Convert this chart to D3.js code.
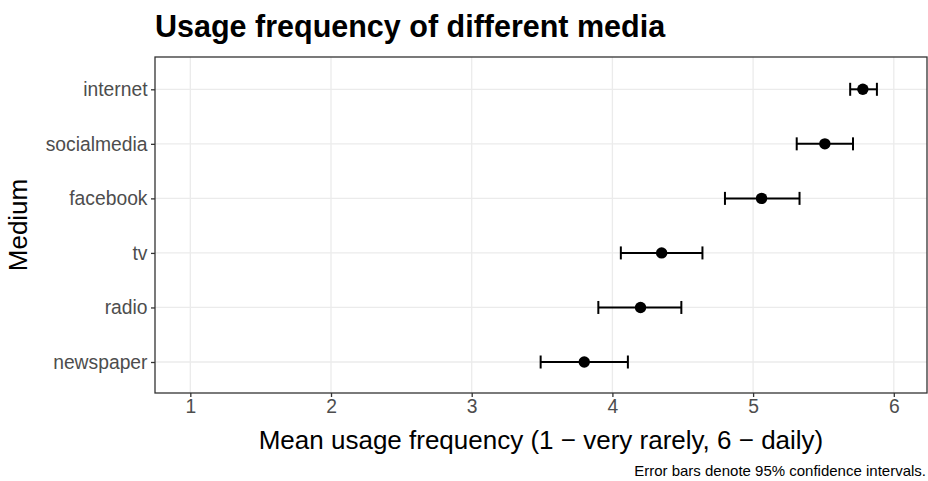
<!DOCTYPE html>
<html>
<head>
<meta charset="utf-8">
<script src="https://cdn.jsdelivr.net/npm/d3@7"></script>
<style>
  body { margin: 0; background: #fff; }
  svg { font-family: "Liberation Sans", Arial, sans-serif; }
</style>
</head>
<body>
<div id="chart"></div>
<script>
const media = ["internet", "socialmedia", "facebook", "tv", "radio", "newspaper"];
const means = [5.78, 5.51, 5.06, 4.35, 4.20, 3.80];
const lower = [5.69, 5.31, 4.80, 4.06, 3.90, 3.49];
const upper = [5.88, 5.71, 5.33, 4.64, 4.49, 4.11];
const xTicks = [1, 2, 3, 4, 5, 6];

const width = 928, height = 481;
const margin = { top: 57, right: 1, bottom: 88, left: 155 };

const svg = d3.select("#chart")
  .append("svg")
  .attr("width", width)
  .attr("height", height);

const x = d3.scaleLinear()
  .domain([0.749, 6.236])
  .range([margin.left, width - margin.right]);

const y = d3.scalePoint()
  .domain(media)
  .range([89.3, 362])
  .padding(0);

const data = media.map((m, i) => ({ m, mean: means[i], lo: lower[i], hi: upper[i] }));

// grid
const g = svg.append("g");
g.selectAll(".vgrid")
  .data(xTicks)
  .enter()
  .append("line")
  .attr("x1", d => x(d)).attr("x2", d => x(d))
  .attr("y1", margin.top).attr("y2", height - margin.bottom)
  .attr("stroke", "#ebebeb").attr("stroke-width", 1.3);
g.selectAll(".hgrid")
  .data(media)
  .enter()
  .append("line")
  .attr("x1", margin.left).attr("x2", width - margin.right)
  .attr("y1", d => y(d)).attr("y2", d => y(d))
  .attr("stroke", "#ebebeb").attr("stroke-width", 1.3);

// axes
const xAxis = svg.append("g")
  .attr("transform", `translate(0,${height - margin.bottom})`)
  .call(d3.axisBottom(x).tickValues(xTicks).tickFormat(d3.format("d")).tickSize(4).tickPadding(2));
const yAxis = svg.append("g")
  .attr("transform", `translate(${margin.left},0)`)
  .call(d3.axisLeft(y).tickSize(4).tickPadding(3.5));

[xAxis, yAxis].forEach(a => {
  a.select(".domain").remove();
  a.selectAll(".tick line").attr("stroke", "#333333").attr("stroke-width", 1.3);
  a.selectAll(".tick text")
    .attr("fill", "#4d4d4d")
    .style("font-size", "19.3px")
    .style("font-family", "Liberation Sans, Arial, sans-serif");
});

// panel border
svg.append("rect")
  .attr("x", margin.left).attr("y", margin.top)
  .attr("width", width - margin.right - margin.left)
  .attr("height", height - margin.bottom - margin.top)
  .attr("fill", "none")
  .attr("stroke", "#333333")
  .attr("stroke-width", 1.3);

// error bars
const cap = 6.5;
const bars = svg.append("g").selectAll("g")
  .data(data)
  .enter()
  .append("g")
  .attr("stroke", "#000")
  .attr("stroke-width", 2);
bars.append("line")
  .attr("x1", d => x(d.lo)).attr("x2", d => x(d.hi))
  .attr("y1", d => y(d.m)).attr("y2", d => y(d.m));
bars.append("line")
  .attr("x1", d => x(d.lo)).attr("x2", d => x(d.lo))
  .attr("y1", d => y(d.m) - cap).attr("y2", d => y(d.m) + cap);
bars.append("line")
  .attr("x1", d => x(d.hi)).attr("x2", d => x(d.hi))
  .attr("y1", d => y(d.m) - cap).attr("y2", d => y(d.m) + cap);

// points
svg.append("g").selectAll("circle")
  .data(data)
  .enter()
  .append("circle")
  .attr("cx", d => x(d.mean))
  .attr("cy", d => y(d.m))
  .attr("r", 5.7)
  .attr("fill", "#000");

// titles
svg.append("text")
  .attr("x", margin.left)
  .attr("y", 37)
  .style("font-size", "30.5px")
  .style("font-weight", "bold")
  .text("Usage frequency of different media");

svg.append("text")
  .attr("x", (margin.left + width - margin.right) / 2)
  .attr("y", 449)
  .attr("text-anchor", "middle")
  .style("font-size", "26px")
  .text("Mean usage frequency (1 \u2212 very rarely, 6 \u2212 daily)");

svg.append("text")
  .attr("transform", `translate(27,${(margin.top + height - margin.bottom) / 2}) rotate(-90)`)
  .attr("text-anchor", "middle")
  .style("font-size", "26px")
  .text("Medium");

svg.append("text")
  .attr("x", width - 2)
  .attr("y", 476)
  .attr("text-anchor", "end")
  .style("font-size", "15px")
  .text("Error bars denote 95% confidence intervals.");
</script>
</body>
</html>
